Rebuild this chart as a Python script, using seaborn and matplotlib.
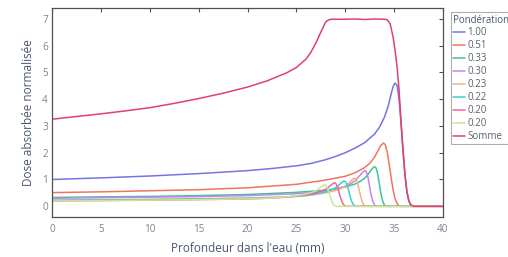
import matplotlib
matplotlib.use("Agg")
import matplotlib.pyplot as plt
import seaborn as sns
import pandas as pd

labels = ["1.00", "0.51", "0.33", "0.30", "0.23", "0.22", "0.20", "0.20", "Somme"]
colors = ["#7474e4", "#f07462", "#3cc496", "#c486ee", "#f6b27a", "#3cd0d2", "#f0649e", "#c6e896", "#e0426c"]

x_100 = [0, 5, 10, 15, 20, 22.5, 25, 26.5, 28, 29, 30, 31, 32, 33, 33.5, 34, 34.4, 34.7, 34.9, 35.1, 35.3, 35.5, 35.7, 35.9, 36.1, 36.3, 36.5, 36.7, 37, 40]
y_100 = [1.0, 1.06, 1.13, 1.22, 1.33, 1.41, 1.51, 1.6, 1.74, 1.86, 2.0, 2.17, 2.38, 2.7, 2.95, 3.32, 3.75, 4.2, 4.48, 4.6, 4.5, 4.0, 3.1, 2.1, 1.2, 0.55, 0.2, 0.05, 0, 0]

x_051 = [0, 5, 10, 15, 20, 25, 28, 30, 31, 32, 32.5, 33, 33.3, 33.6, 33.9, 34.1, 34.3, 34.5, 34.7, 34.9, 35.1, 35.3, 35.5, 35.7, 40]
y_051 = [0.51, 0.54, 0.58, 0.62, 0.69, 0.82, 0.98, 1.12, 1.25, 1.45, 1.6, 1.84, 2.04, 2.25, 2.36, 2.3, 2.0, 1.55, 1.05, 0.6, 0.28, 0.1, 0.02, 0, 0]

x_033 = [0, 5, 10, 15, 20, 25, 28, 30, 31, 31.5, 32, 32.3, 32.6, 32.85, 33.0, 33.15, 33.3, 33.45, 33.6, 33.75, 33.9, 34.05, 34.2, 40]
y_033 = [0.33, 0.35, 0.37, 0.40, 0.44, 0.52, 0.6, 0.72, 0.83, 0.92, 1.05, 1.18, 1.33, 1.44, 1.48, 1.43, 1.24, 0.9, 0.57, 0.3, 0.12, 0.03, 0, 0]

x_030 = [0, 5, 10, 15, 20, 25, 27, 29, 30, 30.5, 31, 31.3, 31.6, 31.85, 32.0, 32.15, 32.3, 32.45, 32.6, 32.75, 32.9, 33.05, 33.2, 40]
y_030 = [0.30, 0.32, 0.34, 0.36, 0.40, 0.47, 0.52, 0.64, 0.75, 0.83, 0.95, 1.07, 1.2, 1.3, 1.34, 1.29, 1.12, 0.82, 0.51, 0.27, 0.11, 0.03, 0, 0]

x_023 = [0, 5, 10, 15, 20, 24, 26, 28, 29, 29.5, 30, 30.3, 30.6, 30.8, 30.95, 31.1, 31.25, 31.4, 31.55, 31.7, 31.85, 32.0, 32.15, 40]
y_023 = [0.23, 0.245, 0.26, 0.28, 0.31, 0.35, 0.39, 0.5, 0.59, 0.65, 0.75, 0.85, 0.95, 1.02, 1.05, 1.01, 0.87, 0.64, 0.4, 0.21, 0.08, 0.02, 0, 0]

x_022 = [0, 5, 10, 15, 20, 23, 25, 27, 28, 28.5, 29, 29.3, 29.6, 29.8, 29.9, 30.05, 30.2, 30.35, 30.5, 30.65, 30.8, 30.95, 31.1, 40]
y_022 = [0.22, 0.235, 0.25, 0.27, 0.3, 0.33, 0.37, 0.46, 0.54, 0.6, 0.69, 0.78, 0.87, 0.93, 0.95, 0.91, 0.79, 0.58, 0.36, 0.19, 0.08, 0.02, 0, 0]

x_020a = [0, 5, 10, 15, 20, 22, 24, 26, 27, 27.5, 28, 28.3, 28.6, 28.8, 28.9, 29.05, 29.2, 29.35, 29.5, 29.65, 29.8, 29.95, 30.1, 40]
y_020a = [0.20, 0.215, 0.23, 0.25, 0.275, 0.3, 0.34, 0.43, 0.5, 0.56, 0.64, 0.72, 0.81, 0.86, 0.88, 0.84, 0.73, 0.54, 0.34, 0.18, 0.07, 0.02, 0, 0]

x_020b = [0, 5, 10, 15, 20, 22, 24, 25, 26, 26.5, 27, 27.3, 27.6, 27.8, 27.9, 28.05, 28.2, 28.35, 28.5, 28.65, 28.8, 28.95, 29.1, 40]
y_020b = [0.20, 0.215, 0.23, 0.25, 0.28, 0.3, 0.35, 0.39, 0.46, 0.51, 0.58, 0.66, 0.74, 0.79, 0.8, 0.77, 0.66, 0.49, 0.31, 0.16, 0.06, 0.02, 0, 0]

x_sum = [0, 2.5, 5, 7.5, 10, 12.5, 15, 17.5, 20, 22, 24, 25, 26, 26.5, 27, 27.5, 28, 28.3, 28.6, 29, 30, 31, 32, 33, 34, 34.3, 34.6, 34.9, 35.1, 35.3, 35.5, 35.7, 35.9, 36.1, 36.3, 36.5, 36.7, 37, 40]
y_sum = [3.25, 3.35, 3.45, 3.56, 3.68, 3.84, 4.02, 4.22, 4.45, 4.68, 4.98, 5.18, 5.5, 5.76, 6.1, 6.5, 6.88, 6.96, 6.98, 6.98, 6.98, 6.99, 6.97, 6.99, 6.98, 6.96, 6.8, 6.3, 5.8, 5.2, 4.35, 3.2, 2.15, 1.22, 0.56, 0.2, 0.05, 0, 0]

series_x = [x_100, x_051, x_033, x_030, x_023, x_022, x_020a, x_020b, x_sum]
series_y = [y_100, y_051, y_033, y_030, y_023, y_022, y_020a, y_020b, y_sum]

sns.set_style("white")
plt.rcParams["font.family"] = ["Open Sans", "DejaVu Sans"]

fig = plt.figure(figsize=(5.08, 2.57), dpi=100)
ax = fig.add_axes([0.1024, 0.1556, 0.7697, 0.8133])

for i, (xs, ys) in enumerate(zip(series_x, series_y)):
    df = pd.DataFrame({"x": xs, "y": ys})
    sns.lineplot(data=df, x="x", y="y", ax=ax, color=colors[i], label=labels[i],
                 linewidth=1.1, sort=False, estimator=None)

ax.set_xlim(0, 40)
ax.set_ylim(-0.4, 7.4)
ax.set_xticks(range(0, 41, 5))
ax.set_yticks(range(0, 8))
ax.tick_params(direction="in", length=3, width=0.8, top=True, right=True,
               labelsize=7.2, labelcolor="#7c8494", color="#505050", pad=3)
ax.tick_params(axis="x", pad=5)
for s in ax.spines.values():
    s.set_color("#505050")
    s.set_linewidth(0.9)
ax.set_xlabel("Profondeur dans l'eau (mm)", fontsize=8.5, color="#4a5670", labelpad=5)
ax.set_ylabel("Dose absorbée normalisée", fontsize=8.5, color="#4a5670", labelpad=5)

leg = ax.legend(title="Pondération", loc="upper left",
                bbox_to_anchor=(0.887, 0.953), bbox_transform=fig.transFigure,
                fontsize=7, title_fontsize=6.9, frameon=True, fancybox=False,
                labelspacing=0.2, handlelength=1.25, handletextpad=0.2,
                borderpad=0.25, borderaxespad=0)
leg.get_frame().set_edgecolor("#9a9a9a")
leg.get_frame().set_linewidth(0.8)
leg._legend_box.align = "left"
for t in leg.get_texts():
    t.set_color("#5a6270")
leg.get_title().set_color("#4a5670")

fig.savefig("out.png", dpi=100)
